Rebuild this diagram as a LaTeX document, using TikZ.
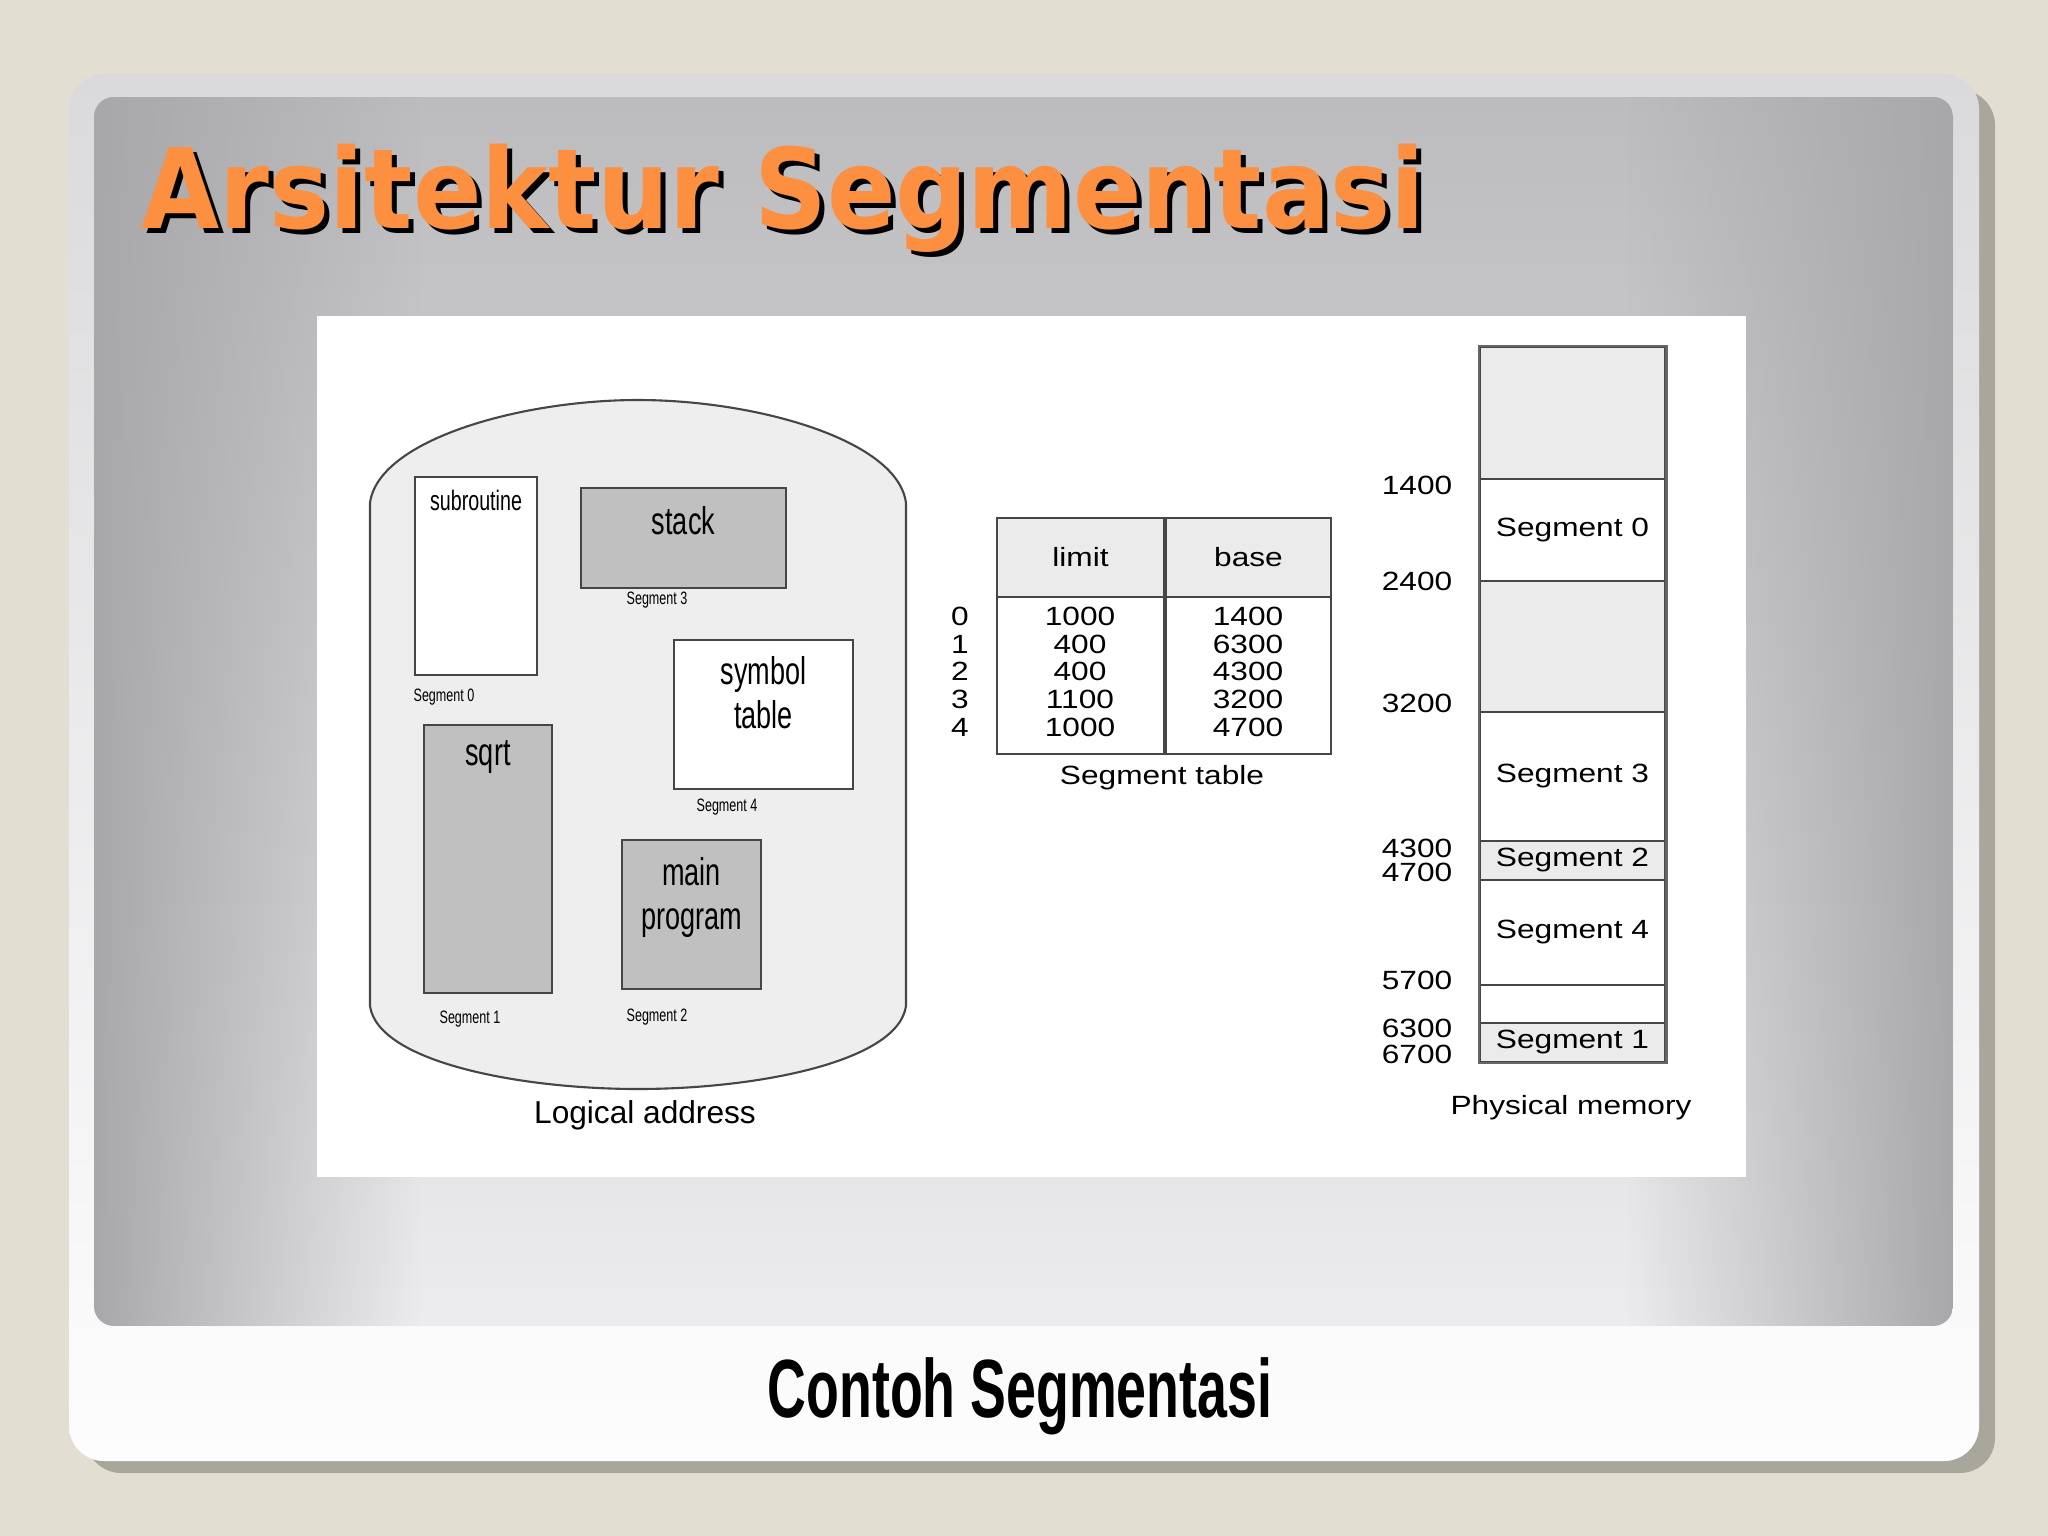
\documentclass[tikz,border=0pt]{standalone}
\usepackage{fontspec}
\setmainfont{Liberation Sans}
\newfontfamily\titlefont[FakeStretch=0.91]{DejaVu Sans}
\newfontfamily\capfont[FakeStretch=0.65]{Liberation Sans}
\newfontfamily\narrowfont[FakeStretch=0.7]{Liberation Sans}
\newfontfamily\widefont[FakeStretch=1.2]{Liberation Sans}
\usetikzlibrary{positioning,fadings}

\definecolor{pagebg}{RGB}{226,223,210}
\definecolor{cardshadow}{RGB}{169,167,156}
\definecolor{cardtop}{RGB}{218,218,220}
\definecolor{cardbot}{RGB}{253,253,254}
\definecolor{paneltop}{RGB}{188,188,190}
\definecolor{panelbot}{RGB}{236,236,238}
\definecolor{edgegray}{RGB}{168,168,171}
\definecolor{titleorange}{RGB}{252,143,64}
\definecolor{boxgray}{RGB}{192,192,192}
\definecolor{blobgray}{RGB}{238,238,238}
\definecolor{cellgray}{RGB}{235,235,235}
\definecolor{linegray}{RGB}{70,70,70}

\tikzfading[name=fadeleft, left color=transparent!0, right color=transparent!100]
\tikzfading[name=faderight, left color=transparent!100, right color=transparent!0]

\tikzset{
  segbox/.style={draw=linegray, line width=0.6pt, inner sep=0pt},
  boxtext/.style={font=\narrowfont\fontsize{11}{12.6}\selectfont, align=center, inner sep=0pt},
  seglabel/.style={font=\narrowfont\fontsize{5.1}{6}\selectfont, inner sep=0pt},
  tabtext/.style={font=\widefont\fontsize{7.5}{9}\selectfont, inner sep=0pt},
  tabcell/.style={draw=linegray, line width=0.8pt, inner sep=0pt, font=\widefont\fontsize{7.5}{9}\selectfont},
  memcell/.style={draw=linegray, line width=0.6pt, inner sep=0pt, minimum width=1.85cm, font=\widefont\fontsize{7.5}{9}\selectfont},
}

\begin{document}
\begin{tikzpicture}[x=0.01cm, y=-0.01cm]
\useasboundingbox[fill=pagebg] (0,0) rectangle (2048,1536);

% slide card
\fill[cardshadow, rounded corners=0.35cm] (86,90) rectangle (1995,1473);
\shade[top color=cardtop, bottom color=cardbot, rounded corners=0.35cm] (69,74) rectangle (1979,1461);
\shade[top color=paneltop, bottom color=panelbot, rounded corners=0.2cm] (94,97) rectangle (1953,1326);
\begin{scope}
\clip[rounded corners=0.2cm] (94,97) rectangle (1953,1326);
\fill[edgegray, path fading=fadeleft] (94,97) rectangle (420,1326);
\fill[edgegray, path fading=faderight] (1627,97) rectangle (1953,1326);
\end{scope}

\node[anchor=base west, inner sep=0pt, text=black, font=\titlefont\bfseries\fontsize{31.6}{36}\selectfont] (titleshadow) at (146,233) {Arsitektur Segmentasi};
\node[anchor=base west, inner sep=0pt, text=titleorange, font=\titlefont\bfseries\fontsize{31.6}{36}\selectfont] (title) at (141,228) {Arsitektur Segmentasi};

% figure
\fill[white] (317,316) rectangle (1746,1177);

% logical address space
\draw[draw=linegray, line width=0.6pt, fill=blobgray] (370,1006) -- (370,503)
  .. controls (378,440) and (520,400) .. (638,400)
  .. controls (756,400) and (898,440) .. (906,503) -- (906,1006)
  .. controls (898,1062) and (756,1089) .. (638,1089)
  .. controls (520,1089) and (378,1062) .. (370,1006) -- cycle;

\node[segbox, fill=white, minimum width=1.22cm, minimum height=1.98cm] (subr) at (476,576) {};
\node[boxtext, font=\narrowfont\fontsize{8}{9}\selectfont, below=0.14cm of subr.north] (subrtext) {subroutine};
\node[segbox, fill=boxgray, minimum width=2.05cm, minimum height=1.0cm] (stack) at (683.5,538) {};
\node[boxtext, below=0.19cm of stack.north] (stacktext) {stack};
\node[segbox, fill=boxgray, minimum width=1.28cm, minimum height=2.68cm] (sqrt) at (488,859) {};
\node[boxtext, below=0.16cm of sqrt.north] (sqrttext) {sqrt};
\node[segbox, fill=white, minimum width=1.79cm, minimum height=1.49cm] (symtab) at (763.5,714.5) {};
\node[boxtext, below=0.17cm of symtab.north] (symtext) {symbol\\table};
\node[segbox, fill=boxgray, minimum width=1.39cm, minimum height=1.49cm] (mainprog) at (691.5,914.5) {};
\node[boxtext, below=0.18cm of mainprog.north] (maintext) {main\\program};

\node[seglabel] (lbl0) at (444,697) {Segment 0};
\node[seglabel] (lbl3) at (657,600) {Segment 3};
\node[seglabel] (lbl4) at (727,807) {Segment 4};
\node[seglabel] (lbl1) at (470,1019) {Segment 1};
\node[seglabel] (lbl2) at (657,1017) {Segment 2};

\node[font=\fontsize{9}{11}\selectfont] (logical) at (645,1115) {Logical address};

% segment table
\node[tabcell, fill=cellgray, minimum width=1.67cm, minimum height=0.79cm] (limhead) at (1080.5,557.5) {limit};
\node[tabcell, fill=cellgray, minimum width=1.65cm, minimum height=0.79cm] (basehead) at (1248.5,557.5) {base};
\node[tabcell, minimum width=1.67cm, minimum height=1.57cm] (limbody) at (1080.5,675.5) {};
\node[tabcell, minimum width=1.65cm, minimum height=1.57cm] (basebody) at (1248.5,675.5) {};

\node[tabtext] (idx0) at (960,616) {0};
\node[tabtext] (idx1) at (960,644) {1};
\node[tabtext] (idx2) at (960,671) {2};
\node[tabtext] (idx3) at (960,699) {3};
\node[tabtext] (idx4) at (960,727) {4};
\node[tabtext] (lim0) at (1080,616) {1000};
\node[tabtext] (lim1) at (1080,644) {400};
\node[tabtext] (lim2) at (1080,671) {400};
\node[tabtext] (lim3) at (1080,699) {1100};
\node[tabtext] (lim4) at (1080,727) {1000};
\node[tabtext] (base0) at (1248,616) {1400};
\node[tabtext] (base1) at (1248,644) {6300};
\node[tabtext] (base2) at (1248,671) {4300};
\node[tabtext] (base3) at (1248,699) {3200};
\node[tabtext] (base4) at (1248,727) {4700};

\node[tabtext] (tablename) at (1162,778) {Segment table};

% physical memory
\node[memcell, fill=cellgray, minimum height=1.32cm] (free0) at (1572.5,413) {};
\node[memcell, fill=white, minimum height=1.02cm] (seg0) at (1572.5,530) {Segment 0};
\node[memcell, fill=cellgray, minimum height=1.31cm] (free1) at (1572.5,646.5) {};
\node[memcell, fill=white, minimum height=1.29cm] (seg3) at (1572.5,776.5) {Segment 3};
\node[memcell, fill=cellgray, minimum height=0.39cm] (seg2) at (1572.5,860.5) {Segment 2};
\node[memcell, fill=white, minimum height=1.05cm] (seg4) at (1572.5,932.5) {Segment 4};
\node[memcell, fill=white, minimum height=0.38cm] (free2) at (1572.5,1004) {};
\node[memcell, fill=cellgray, minimum height=0.39cm] (seg1) at (1572.5,1042.5) {Segment 1};
\draw[black!60, line width=0.8pt] (free0.north west) rectangle (seg1.south east);

\node[tabtext] (addr1400) at (1417,485) {1400};
\node[tabtext] (addr2400) at (1417,581) {2400};
\node[tabtext] (addr3200) at (1417,703) {3200};
\node[tabtext] (addr4300) at (1417,848) {4300};
\node[tabtext] (addr4700) at (1417,872) {4700};
\node[tabtext] (addr5700) at (1417,980) {5700};
\node[tabtext] (addr6300) at (1417,1028) {6300};
\node[tabtext] (addr6700) at (1417,1054) {6700};

\node[tabtext] (physical) at (1571,1108) {Physical memory};

% caption
\node[anchor=base, font=\capfont\bfseries\fontsize{23.5}{28}\selectfont] (caption) at (1020,1417) {Contoh Segmentasi};
\end{tikzpicture}
\end{document}
